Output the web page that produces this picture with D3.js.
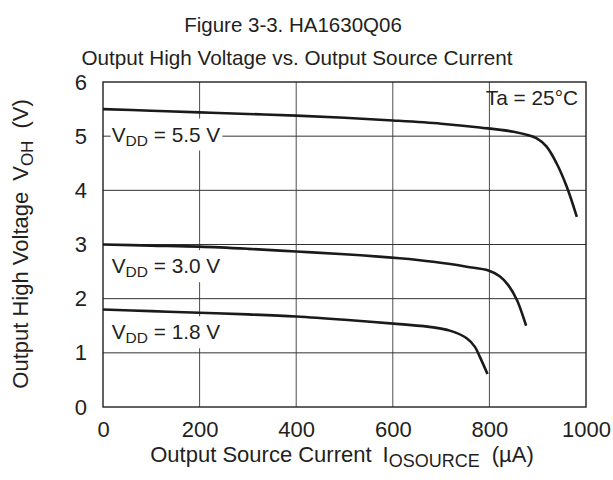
<!DOCTYPE html>
<html><head><meta charset="utf-8">
<script src="https://cdn.jsdelivr.net/npm/d3@7"></script>
<style>body{margin:0;background:#fff}svg text{font-family:Arial,"Liberation Sans",sans-serif;fill:#231f20}</style>
</head><body><svg id="c" width="613" height="480"></svg>
<script>
const xTicks=[0,200,400,600,800,1000];
const yTicks=[0,1,2,3,4,5,6];
const s55=[[0,5.50],[100,5.47],[200,5.44],[300,5.41],[400,5.38],[500,5.34],[600,5.29],[700,5.23],[780,5.16],[850,5.08],[898,4.96],[918,4.81],[939,4.50],[960,4.07],[981,3.51]];
const s30=[[0,3.0],[100,2.98],[200,2.96],[300,2.92],[400,2.87],[500,2.82],[614,2.745],[684,2.68],[753,2.59],[798,2.52],[822,2.41],[839,2.25],[857,1.975],[876,1.50]];
const s18=[[0,1.8],[100,1.77],[200,1.74],[300,1.71],[400,1.67],[500,1.61],[614,1.53],[684,1.47],[718,1.41],[753,1.27],[770,1.11],[780,0.93],[796,0.61]];
const labelNames=["5.5","3.0","1.8"];
const labelPos=[5.03,2.6,1.38];

const FONT="Arial,'Liberation Sans',sans-serif";
const svg=d3.select("#c");
const L=103,R=586,T=82,B=407;
const x=d3.scaleLinear().domain([0,1000]).range([L,R]);
const y=d3.scaleLinear().domain([0,6]).range([B,T]);

// grid
const g=svg.append("g");
g.selectAll(".vx").data(xTicks.slice(1,-1)).enter().append("line")
 .attr("x1",d=>x(d)).attr("x2",d=>x(d)).attr("y1",T).attr("y2",B).attr("stroke","#4d4d4d").attr("stroke-width",1);
g.selectAll(".hy").data(yTicks.slice(1,-1)).enter().append("line")
 .attr("x1",L).attr("x2",R).attr("y1",d=>y(d)).attr("y2",d=>y(d)).attr("stroke","#333").attr("stroke-width",1);

// labels with white background
labelNames.forEach((v,i)=>{
  const cy=y(labelPos[i]);
  const t=svg.append("text").attr("x",x(18)).attr("y",cy+7).attr("font-size",20.8);
  t.append("tspan").text("V");
  t.append("tspan").text("DD").attr("font-size",15.5).attr("dy",4);
  t.append("tspan").text(" = "+v+" V").attr("dy",-4);
  const bb=t.node().getBBox();
  svg.insert("rect",function(){return t.node();}).attr("x",bb.x-1).attr("y",cy-16).attr("width",bb.width+3).attr("height",32).attr("fill","#fff");
});

// border
svg.append("rect").attr("x",L).attr("y",T).attr("width",R-L).attr("height",B-T).attr("fill","none").attr("stroke","#231f20").attr("stroke-width",1.4);

// curves
const line=d3.line().x(d=>x(d[0])).y(d=>y(d[1])).curve(d3.curveCatmullRom.alpha(0.5));
[s55,s30,s18].forEach(s=>{
  svg.append("path").attr("d",line(s)).attr("fill","none").attr("stroke","#1a1a1a").attr("stroke-width",2.6);
});

// axes tick labels
const xa=svg.append("g").attr("transform",`translate(0,${B})`).call(d3.axisBottom(x).tickValues(xTicks).tickFormat(d3.format("d")).tickSize(0).tickPadding(14));
xa.select(".domain").remove();
xa.selectAll("text").attr("font-size",22).attr("fill","#231f20").style("font-family",FONT).attr("dy",null).attr("y",30);
const ya=svg.append("g").attr("transform",`translate(${L},0)`).call(d3.axisLeft(y).tickValues(yTicks).tickFormat(d3.format("d")).tickSize(0).tickPadding(16));
ya.select(".domain").remove();
ya.selectAll("text").attr("font-size",22).attr("fill","#231f20").style("font-family",FONT);

svg.append("text").attr("x",578).attr("y",105).attr("text-anchor","end").attr("font-size",20.8).text("Ta = 25°C");

// titles
svg.append("text").attr("x",293).attr("y",31.5).attr("text-anchor","middle").attr("font-size",20.5).text("Figure 3-3. HA1630Q06");
svg.append("text").attr("x",297).attr("y",65).attr("text-anchor","middle").attr("font-size",20.7).text("Output High Voltage vs. Output Source Current");

const xt=svg.append("text").attr("x",342).attr("y",462).attr("text-anchor","middle").attr("font-size",22);
xt.append("tspan").text("Output Source Current");
xt.append("tspan").text("I").attr("dx",11);
xt.append("tspan").text("OSOURCE").attr("font-size",18).attr("dy",5);
xt.append("tspan").text("(µA)").attr("dy",-5).attr("dx",12);

const yt=svg.append("text").attr("transform",`translate(28,244) rotate(-90)`).attr("text-anchor","middle").attr("font-size",22);
yt.append("tspan").text("Output High Voltage");
yt.append("tspan").text("V").attr("dx",11);
yt.append("tspan").text("OH").attr("font-size",17).attr("dy",5);
yt.append("tspan").text("(V)").attr("dy",-5).attr("dx",12);
</script></body></html>
